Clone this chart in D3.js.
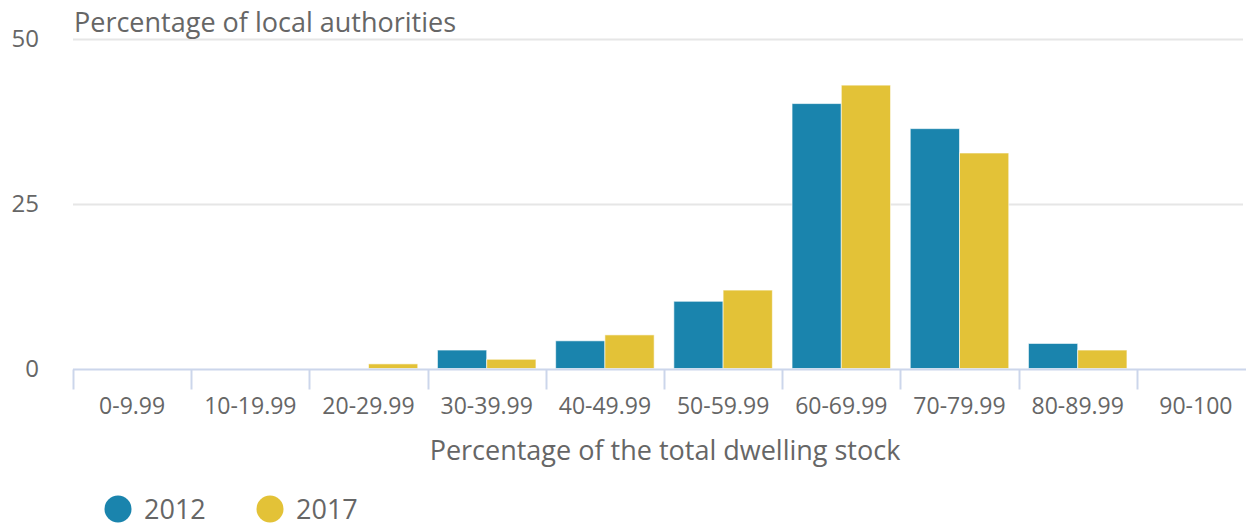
<!DOCTYPE html>
<html>
<head>
<meta charset="utf-8">
<script src="https://cdn.jsdelivr.net/npm/d3@7"></script>
<style>
  html, body { margin: 0; padding: 0; background: #fff; }
  svg { display: block; font-family: "Open Sans", "Noto Sans", sans-serif; }
</style>
</head>
<body>
<svg id="chart" width="1246" height="524"></svg>
<script>
// Share of local authorities by percentage band of the total dwelling stock
const categories = ["0-9.99", "10-19.99", "20-29.99", "30-39.99", "40-49.99",
                    "50-59.99", "60-69.99", "70-79.99", "80-89.99", "90-100"];
const seriesNames = ["2012", "2017"];
const values2012 = [0, 0, 0, 2.8, 4.2, 10.2, 40.2, 36.4, 3.8, 0];
const values2017 = [0, 0, 0.7, 1.4, 5.1, 11.9, 43.0, 32.7, 2.8, 0];
const yTicks = [0, 25, 50];
const colors = ["#1a84ad", "#e3c237"];

const yTitle = "Percentage of local authorities";
const xTitle = "Percentage of the total dwelling stock";

const svg = d3.select("#chart");
const plotLeft = 73, plotRight = 1255, plotTop = 39, plotBottom = 368.5;

const x = d3.scaleBand().domain(categories).range([plotLeft, plotRight]).paddingInner(0).paddingOuter(0);
const inner = d3.scaleBand().domain(seriesNames).range([0, x.bandwidth()]).paddingOuter(0.2).paddingInner(0);
const y = d3.scaleLinear().domain([0, 50]).range([plotBottom, plotTop]);

// horizontal grid lines
svg.append("g")
  .selectAll("line")
  .data(yTicks.filter(d => d > 0))
  .join("line")
  .attr("x1", plotLeft).attr("x2", 1243)
  .attr("y1", d => Math.round(y(d)) + 0.5).attr("y2", d => Math.round(y(d)) + 0.5)
  .attr("stroke", "#e6e6e6").attr("stroke-width", 2);

// y axis labels
const yAxis = d3.axisLeft(y).tickValues(yTicks).tickSize(0).tickPadding(0);
const gy = svg.append("g").attr("transform", "translate(39,0)").call(yAxis);
gy.select(".domain").remove();
gy.selectAll("text")
  .attr("font-size", 24).attr("fill", "#666")
  .attr("font-family", "'Open Sans', sans-serif")
  .attr("dy", "0.32em");

// bars
const rows = categories.map((c, i) => ({ c, vals: [values2012[i], values2017[i]] }));
const groups = svg.append("g").selectAll("g")
  .data(rows).join("g")
  .attr("transform", d => `translate(${x(d.c)},0)`);
groups.selectAll("rect")
  .data(d => d.vals.map((v, j) => ({ v, s: seriesNames[j], j })).filter(d => d.v > 0))
  .join("rect")
  .attr("x", d => inner(d.s))
  .attr("width", inner.bandwidth())
  .attr("y", d => y(d.v))
  .attr("height", d => y(0) - y(d.v))
  .attr("fill", d => colors[d.j])
  .attr("stroke", "rgba(255,255,255,0.6)")
  .attr("stroke-width", 1);

// x axis
const xAxis = d3.axisBottom(x).tickSize(0).tickPadding(0);
const gx = svg.append("g").attr("transform", `translate(0,${plotBottom + 1})`).call(xAxis);
gx.select(".domain").remove();
gx.selectAll(".tick line").remove();
gx.selectAll("text")
  .attr("font-size", 23).attr("fill", "#666")
  .attr("font-family", "'Open Sans', sans-serif")
  .attr("y", 44).attr("dy", 0);

svg.append("line")
  .attr("x1", plotLeft).attr("x2", 1246)
  .attr("y1", plotBottom + 1).attr("y2", plotBottom + 1)
  .attr("stroke", "#ccd6eb").attr("stroke-width", 2);
svg.append("g").selectAll("line")
  .data(categories)
  .join("line")
  .attr("x1", d => Math.round(x(d)) + 0.5).attr("x2", d => Math.round(x(d)) + 0.5)
  .attr("y1", plotBottom + 1).attr("y2", plotBottom + 21)
  .attr("stroke", "#ccd6eb").attr("stroke-width", 2);

// axis titles
svg.append("text")
  .attr("x", 74).attr("y", 32)
  .attr("font-size", 27).attr("fill", "#666")
  .text(yTitle);
svg.append("text")
  .attr("x", 665).attr("y", 460)
  .attr("text-anchor", "middle")
  .attr("font-size", 27).attr("fill", "#666")
  .text(xTitle);

// legend
const legendX = [118, 270];
const legend = svg.append("g").selectAll("g")
  .data(seriesNames).join("g")
  .attr("transform", (d, i) => `translate(${legendX[i]},509)`);
legend.append("circle").attr("r", 13.5).attr("fill", (d, i) => colors[i]);
legend.append("text")
  .attr("x", 26).attr("y", 10)
  .attr("font-size", 27).attr("fill", "#666")
  .text(d => d);
</script>
</body>
</html>
